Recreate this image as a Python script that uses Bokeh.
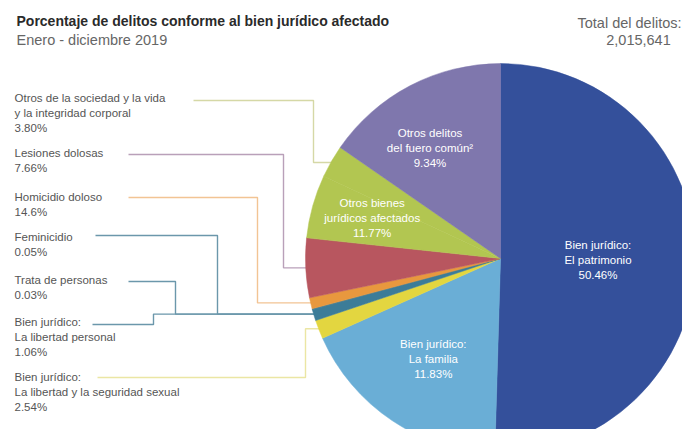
import math
from bokeh.plotting import figure
from bokeh.models import Range1d, ColumnDataSource
from bokeh.core.properties import value
from bokeh.embed import file_html
from bokeh.resources import INLINE

# ---------------- data ----------------
categories = [
    "Bien jurídico: El patrimonio",
    "Bien jurídico: La familia",
    "Bien jurídico: La libertad y la seguridad sexual",
    "Bien jurídico: La libertad personal",
    "Trata de personas",
    "Feminicidio",
    "Homicidio doloso",
    "Lesiones dolosas",
    "Otros bienes jurídicos afectados",
    "Otros de la sociedad y la vida y la integridad corporal",
    "Otros delitos del fuero común",
]
# percentages as printed on the chart
pct_labels = ["50.46%", "11.83%", "2.54%", "1.06%", "0.03%", "0.05%",
              "14.6%", "7.66%", "11.77%", "3.80%", "9.34%"]
# share of the circle each slice occupies as drawn in the picture (%)
slice_share = [50.46, 17.83, 1.55, 0.92, 0.03, 0.05, 0.92, 4.92, 5.25, 2.70, 15.36]
slice_colors = ["#34509b", "#6aaed6", "#e3d640", "#3c7c98", "#3c7c98", "#3c7c98",
                "#e8983e", "#b8565f", "#b2c651", "#b2c651", "#7f77ad"]

title = "Porcentaje de delitos conforme al bien jurídico afectado"
subtitle = "Enero - diciembre 2019"
total_label = "Total del delitos:"
total_value = "2,015,641"

# ---------------- layout ----------------
CX, CY, R = 500, 258, 195          # pie centre / radius (picture pixels)
W, H = 682, 429

p = figure(width=W, height=H, output_backend="svg", toolbar_location=None,
           x_range=Range1d(0, W), y_range=Range1d(-H, 0),
           x_axis_type=None, y_axis_type=None, min_border=0,
           outline_line_color=None, background_fill_color="white")
p.grid.visible = False

total = sum(slice_share)
starts, ends = [], []
acc = 0.0
for s in slice_share:
    starts.append(360.0 * acc / total)
    acc += s
    ends.append(360.0 * acc / total)


def edge_point(theta_deg, rr=R):
    t = math.radians(theta_deg)
    return CX + rr * math.sin(t), CY - rr * math.cos(t)


# ---------------- leader lines (drawn under the pie) ----------------
left_names = ["Otros de la sociedad y la vida\ny la integridad corporal",
              "Lesiones dolosas", "Homicidio doloso", "Feminicidio",
              "Trata de personas", "Bien jurídico:\nLa libertad personal",
              "Bien jurídico:\nLa libertad y la seguridad sexual"]
left_idx = [9, 7, 6, 5, 4, 3, 2]
anchor_groups = [[9], [7], [6], [3, 4, 5], [3, 4, 5], [3, 4, 5], [2]]
label_top = [91, 146, 190, 230, 273, 315, 370]
line_start_x = [193, 128, 128, 95, 128, 92, 97]
line_y = [100, 154, 197, 235, 281, 324, 377]
elbow_x = [313, 283, 257, 217, 175, 153, 305]
leader_colors = ["#d5d8a6", "#b9a0b9", "#f2c494", "#6b97ab", "#6b97ab", "#6b97ab", "#ebe6a4"]

xs, ys = [], []
for g, x0, yl, xe in zip(anchor_groups, line_start_x, line_y, elbow_x):
    th = (starts[g[0]] + ends[g[-1]]) / 2.0
    ax, ay = edge_point(th, R - 2)
    xs.append([x0, xe, xe, ax])
    ys.append([-yl, -yl, -ay, -ay])
p.multi_line(xs=xs, ys=ys, line_color=leader_colors, line_width=1.4)

# ---------------- pie ----------------
src = ColumnDataSource(dict(
    start=[math.radians(90 - e) for e in ends],
    end=[math.radians(90 - s) for s in starts],
    color=slice_colors, cat=categories))
p.wedge(x=CX, y=-CY, radius=R, start_angle="start", end_angle="end",
        fill_color="color", line_color="color", line_width=0.5, source=src)

# ---------------- inner labels ----------------
inner_idx = [0, 1, 8, 10]
inner_names = ["Bien jurídico:\nEl patrimonio", "Bien jurídico:\nLa familia",
               "Otros bienes\njurídicos afectados", "Otros delitos\ndel fuero común²"]
inner_rfrac = [0.50, 0.62, 0.69, 0.67]
inner_dtheta = [0, 0, 2, -5]
ix, iy, itxt = [], [], []
for i, nm, rf, dt in zip(inner_idx, inner_names, inner_rfrac, inner_dtheta):
    th = (starts[i] + ends[i]) / 2.0 + dt
    x, y = edge_point(th, R * rf)
    ix.append(x); iy.append(-y); itxt.append(nm + "\n" + pct_labels[i])
p.text(x=ix, y=iy, text=itxt, text_color="white", text_align="center",
       text_baseline="middle", text_font=value("Liberation Sans"),
       text_font_size="11.5px", text_line_height=1.25)

# ---------------- left labels ----------------
lt = [nm + "\n" + pct_labels[i] for nm, i in zip(left_names, left_idx)]
p.text(x=[14] * len(lt), y=[-t for t in label_top], text=lt, text_color="#555555",
       text_align="left", text_baseline="top", text_font=value("Liberation Sans"),
       text_font_size="11.5px", text_line_height=1.25)

# ---------------- titles ----------------
p.text(x=[16], y=[-20], text=[title], text_color="#2a2a2a", text_align="left",
       text_baseline="middle", text_font=value("Liberation Sans"),
       text_font_style="bold", text_font_size="14px")
p.text(x=[16], y=[-39], text=[subtitle], text_color="#666666", text_align="left",
       text_baseline="middle", text_font=value("Liberation Sans"),
       text_font_size="14.5px")
p.text(x=[681], y=[-22], text=[total_label],
       text_color="#666666", text_align="right", text_baseline="middle",
       text_font=value("Liberation Sans"), text_font_size="14.5px")
p.text(x=[638], y=[-39], text=[total_value],
       text_color="#666666", text_align="center", text_baseline="middle",
       text_font=value("Liberation Sans"), text_font_size="14.5px")

open("out.html", "w").write(file_html(p, INLINE))
